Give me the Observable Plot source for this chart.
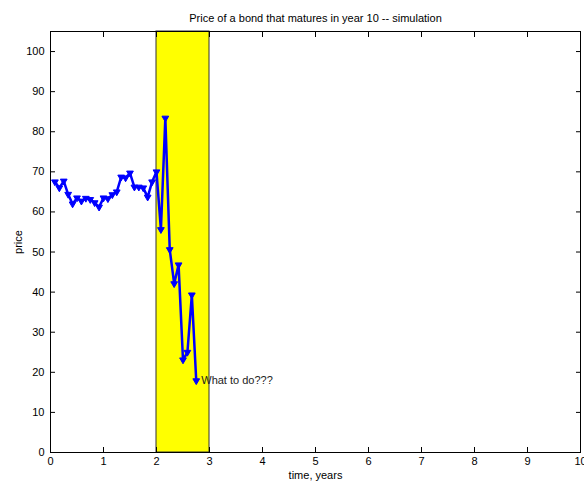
<!DOCTYPE html>
<html>
<head>
<meta charset="utf-8">
<script src="https://cdn.jsdelivr.net/npm/d3@7"></script>
<script src="https://cdn.jsdelivr.net/npm/@observablehq/plot@0.6"></script>
<style>
  html, body { margin: 0; padding: 0; background: #fff; }
  svg { display: block; }
</style>
</head>
<body>
<div id="chart"></div>
<script>
const titleText = "Price of a bond that matures in year 10 -- simulation";
const xLabel = "time, years";
const yLabel = "price";
const annotationText = "What to do???";
const xTicks = [0, 1, 2, 3, 4, 5, 6, 7, 8, 9, 10];
const yTicks = [0, 10, 20, 30, 40, 50, 60, 70, 80, 90, 100];
const months = [1,2,3,4,5,6,7,8,9,10,11,12,13,14,15,16,17,18,19,20,21,22,23,24,25,26,27,28,29,30,31,32,33];
const prices = [67.5,66.0,67.7,64.4,62.0,63.5,62.7,63.4,63.1,62.3,61.2,63.5,63.3,64.3,65.0,68.7,68.5,69.7,66.2,66.2,66.0,63.7,67.5,70.0,55.6,83.4,50.6,42.1,46.8,23.1,25.0,39.3,17.9];
const highlightStart = [2];
const highlightEnd = [3];
const yMax = 105;

const data = months.map((m, i) => ({t: m / 12, p: prices[i]}));
const last = data[data.length - 1];
const band = highlightStart.map((s, i) => ({x1: s, x2: highlightEnd[i]}));

const font = "'Liberation Sans', Arial, Helvetica, sans-serif";

const chart = Plot.plot({
  width: 584,
  height: 481,
  marginLeft: 50,
  marginRight: 4,
  marginTop: 31,
  marginBottom: 29,
  style: {fontFamily: font, fontSize: "11px", background: "white", color: "black"},
  x: {domain: [0, 10]},
  y: {domain: [0, yMax]},
  marks: [
    Plot.rect(band, {x1: "x1", x2: "x2", y1: 0, y2: yMax, fill: "yellow", stroke: "#333", strokeWidth: 1}),
    Plot.line(data, {x: "t", y: "p", stroke: "#0000ff", strokeWidth: 2.5}),
    Plot.dot(data, {x: "t", y: "p", symbol: "triangle", rotate: 180, r: 2.5, fill: "#0000ff", stroke: "#0000ff", strokeWidth: 1}),
    Plot.text([last], {x: "t", y: "p", text: () => annotationText, textAnchor: "start", dx: 5, fill: "#222", fontSize: 11}),
    Plot.frame({stroke: "black", strokeWidth: 1}),
    Plot.axisX(xTicks, {anchor: "bottom", tickSize: -5, text: null, label: null}),
    Plot.axisX(xTicks, {anchor: "top", tickSize: -5, text: null, label: null}),
    Plot.axisY(yTicks, {anchor: "left", tickSize: -5, text: null, label: null}),
    Plot.axisY(yTicks, {anchor: "right", tickSize: -5, text: null, label: null}),
    Plot.axisX(xTicks, {anchor: "bottom", tickSize: 0, tickPadding: 5, label: xLabel, labelAnchor: "center", labelOffset: 26, labelArrow: "none", fontSize: 11}),
    Plot.axisY(yTicks, {anchor: "left", tickSize: 0, tickPadding: 6, label: yLabel, labelAnchor: "center", labelOffset: 36, labelArrow: "none", fontSize: 11}),
    Plot.text([titleText], {frameAnchor: "top", dy: -17, text: d => d, fontSize: 11, fill: "black"})
  ]
});
document.getElementById("chart").appendChild(chart);
</script>
</body>
</html>
